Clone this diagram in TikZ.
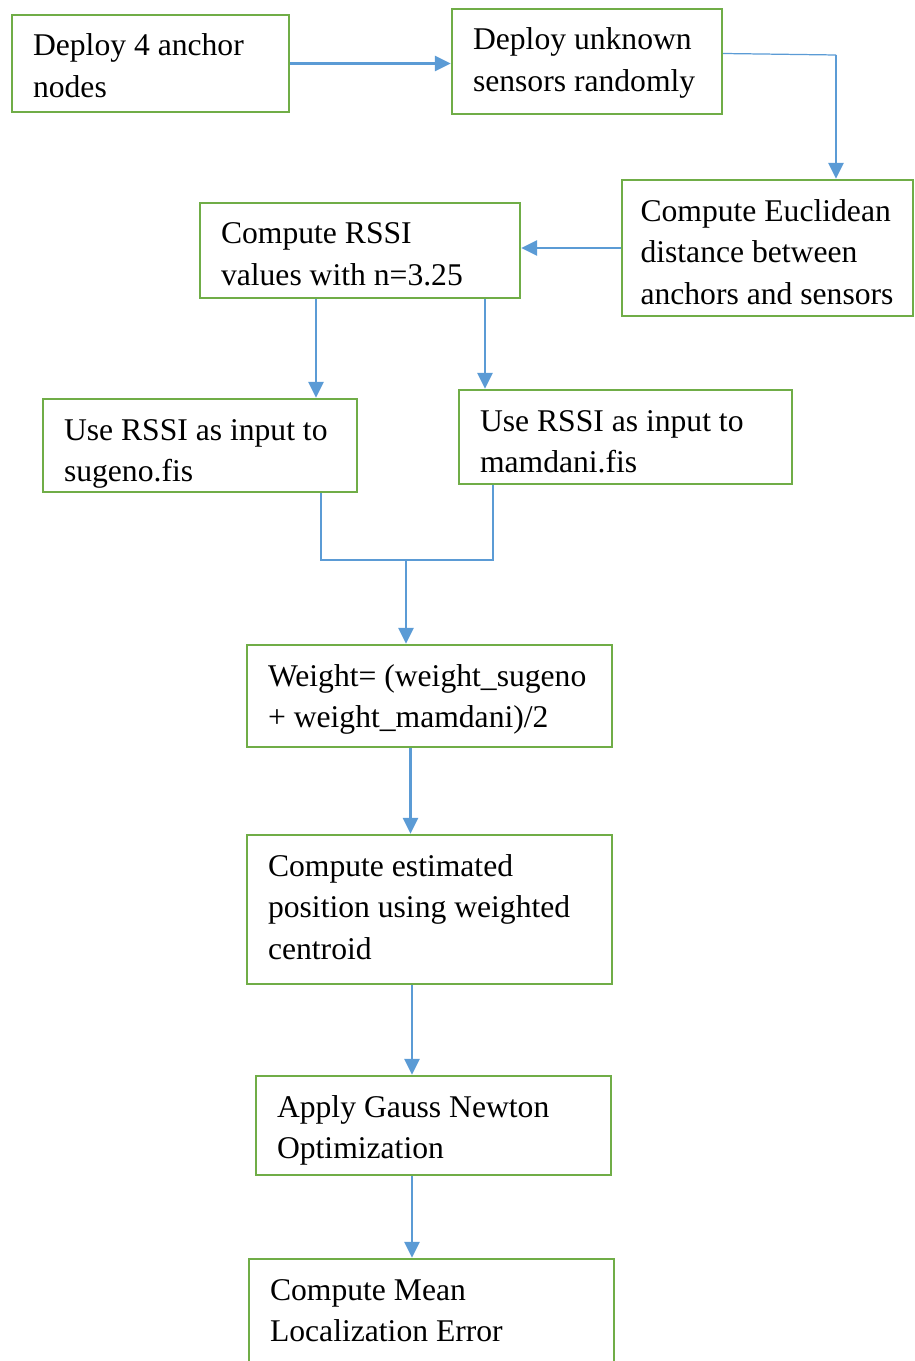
\documentclass[tikz,border=0pt]{standalone}
\usepackage{fontspec}
\setmainfont{Liberation Serif}
\usepackage{tikz}
\usetikzlibrary{arrows.meta,positioning,calc}
\definecolor{boxgreen}{RGB}{112,173,71}
\definecolor{arrowblue}{RGB}{91,155,213}
\tikzstyle{etape}=[draw=boxgreen, line width=1.4pt, align=flush left, inner xsep=2pt,
inner ysep=0pt, text height=0.82cm, font=\fontsize{18}{23.8}\selectfont]
\tikzstyle{line}=[draw, line width=1.4pt, color=arrowblue, -{Triangle[width=8.5pt,length=9pt]}]
\tikzstyle{thinline}=[draw, line width=0.7pt, color=arrowblue]
% width, depth below first line, text width
\tikzset{sz/.style n args={3}{minimum width=#1cm, text depth=#2cm, text width=#3cm}}
\newcommand{\etape}[3]{node (p#1)[etape,#2]{#3}}

\begin{document}
\begin{tikzpicture}[x=0.02cm,y=-0.02cm]
		\useasboundingbox (0,0) rectangle (914,1361);
		
		% boxes
		\path (150.5,63.5) \etape{1}{sz={5.54}{1.12}{4.70}}{Deploy 4 anchor\\nodes};
		\path (587,61.5) \etape{2}{sz={5.40}{1.28}{4.56}}{Deploy unknown\\sensors randomly};
		\path (767.5,248) \etape{3}{sz={5.82}{1.90}{5.08}}{Compute Euclidean\\distance between\\anchors and sensors};
		\path (360,250.5) \etape{4}{sz={6.40}{1.08}{5.56}}{Compute RSSI\\values with n=3.25};
		
		\path (200,445.5) \etape{5}{sz={6.28}{1.04}{5.44}}{Use RSSI as input to\\sugeno.fis};
		\path (625.5,437) \etape{6}{sz={6.66}{1.06}{5.82}}{Use RSSI as input to\\mamdani.fis};
		
		\path (429.5,696) \etape{7}{sz={7.30}{1.22}{6.46}}{Weight= (weight\_sugeno\\+ weight\_mamdani)/2};
		\path (429.5,909.5) \etape{8}{sz={7.30}{2.16}{6.46}}{Compute estimated\\position using weighted\\centroid};
		\path (433.5,1125.5) \etape{9}{sz={7.10}{1.16}{6.26}}{Apply Gauss Newton\\Optimization};
		\path (431.5,1311) \etape{10}{sz={7.30}{1.26}{6.46}}{Compute Mean\\Localization Error};
		
		\coordinate (k1) at (836,55);
		\coordinate (jn) at (406,560);
		
		% connectors
		\path [line] (p1.east) -- (p1.east -| p2.west);
		\path [thinline] ([yshift=0.16cm]p2.east) -- (k1);
		\path [line] (k1) -- (k1 |- p3.north);
		\path [line] (p3.west) -- (p3.west -| p4.east);
		\path [line] ([xshift=-0.88cm]p4.south) -- ([xshift=-0.88cm]p4.south |- p5.north);
		\path [line] ([xshift=2.5cm]p4.south) -- ([xshift=2.5cm]p4.south |- p6.north);
		\path [thinline] ([xshift=2.42cm]p5.south) |- (jn) -| ([xshift=-2.65cm]p6.south);
		\path [line] (jn) -- (jn |- p7.north);
		\path [line] ([xshift=-0.38cm]p7.south) -- ([xshift=-0.38cm]p7.south |- p8.north);
		\path [line] ([xshift=-0.35cm]p8.south) -- ([xshift=-0.35cm]p8.south |- p9.north);
		\path [line] ([xshift=-0.43cm]p9.south) -- ([xshift=-0.43cm]p9.south |- p10.north);
		\end{tikzpicture}
\end{document}
